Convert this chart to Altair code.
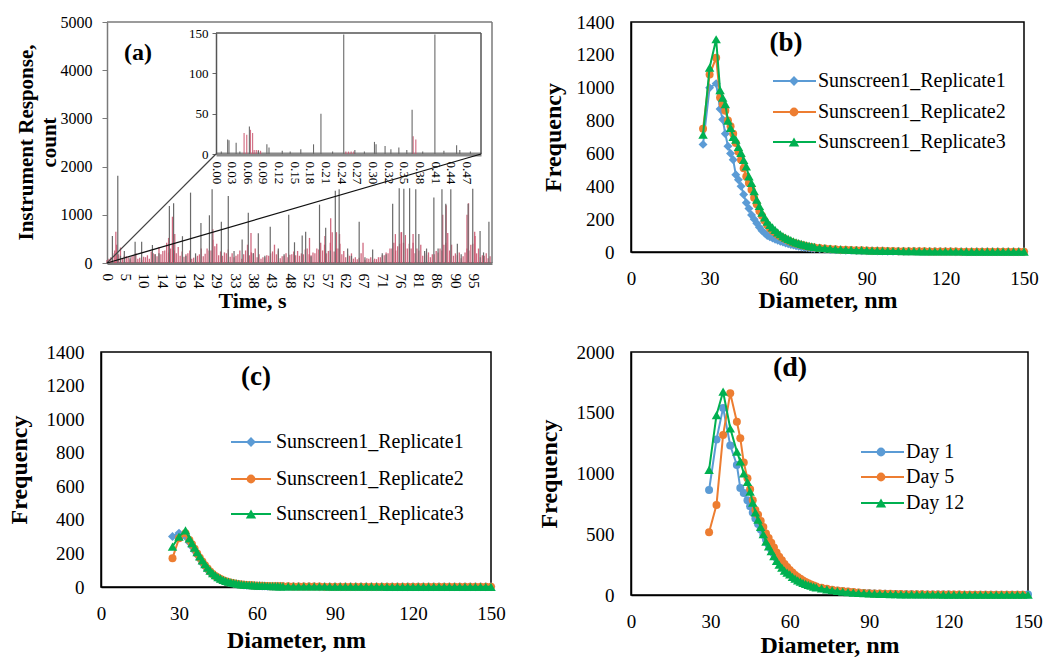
import altair as alt
import pandas as pd

FONT = "Liberation Serif"
BLUE, ORANGE, GREEN = "#5B9BD5", "#ED7D31", "#00B050"
RED, GREY = "#C8506A", "#6A6A6A"

# ---------------------------------------------------------------- panel (a) data
TIME_TICKS = [0, 4.762, 9.524, 14.286, 19.048, 23.810, 28.571, 33.333, 38.095,
              42.857, 47.619, 52.381, 57.143, 61.905, 66.667, 71.429, 76.190,
              80.952, 85.714, 90.476, 95.238]
INSET_TICKS = [0.0, 0.0295, 0.059, 0.0886, 0.1181, 0.1476, 0.1771, 0.2066, 0.2362,
               0.2657, 0.2952, 0.3247, 0.3542, 0.3838, 0.4133, 0.4428, 0.4723]

RED_T_MID = [0.5, 1.5, 2.5, 3.5, 4.5, 5.5, 6.5, 7.5, 8.5, 9.5,
             10.5, 11.5, 12.5, 13.5, 14.5, 15.5, 16.5, 17.5, 18.5, 19.5,
             20.5, 21.5, 22.5, 23.5, 24.5, 25.5, 26.5, 27.5, 28.5, 29.5,
             30.5, 31.5, 32.5, 33.5, 34.5, 35.5, 36.5, 37.5, 38.5, 39.5,
             40.5, 41.5, 42.5, 43.5, 44.5, 45.5, 46.5, 47.5, 48.5, 49.5,
             50.5, 51.5, 52.5, 53.5, 54.5, 55.5, 56.5, 57.5, 58.5, 59.5,
             60.5, 61.5, 62.5, 63.5, 64.5, 65.5, 66.5, 67.5, 68.5, 69.5,
             70.5, 71.5, 72.5, 73.5, 74.5, 75.5, 76.5, 77.5, 78.5, 79.5,
             80.5, 81.5, 82.5, 83.5, 84.5, 85.5, 86.5, 87.5, 88.5, 89.5,
             90.5, 91.5, 92.5, 93.5, 94.5, 95.5, 96.5, 97.5, 98.5, 99.5]
RED_V_MID = [90, 200, 380, 320, 150, 120, 140, 200, 110, 130,
             160, 240, 180, 330, 250, 420, 300, 260, 330, 240,
             180, 260, 110, 150, 300, 190, 260, 480, 400, 240,
             220, 280, 200, 150, 260, 180, 380, 220, 300, 180,
             120, 160, 200, 380, 260, 140, 200, 170, 240, 250,
             200, 280, 180, 220, 300, 420, 380, 250, 640, 300,
             400, 250, 180, 200, 120, 110, 420, 100, 120, 90,
             120, 160, 220, 300, 420, 350, 640, 580, 400, 420,
             300, 380, 200, 220, 180, 250, 300, 380, 620, 380,
             200, 220, 140, 300, 380, 650, 300, 160, 200, 140]
RED_T_INT = [0, 1, 2, 3, 4, 5, 6, 7, 8, 9,
             10, 11, 12, 13, 14, 15, 16, 17, 18, 19,
             20, 21, 22, 23, 24, 25, 26, 27, 28, 29,
             30, 31, 32, 33, 34, 35, 36, 37, 38, 39,
             40, 41, 42, 43, 44, 45, 46, 47, 48, 49,
             50, 51, 52, 53, 54, 55, 56, 57, 58, 59,
             60, 61, 62, 63, 64, 65, 66, 67, 68, 69,
             70, 71, 72, 73, 74, 75, 76, 77, 78, 79,
             80, 81, 82, 83, 84, 85, 86, 87, 88, 89,
             90, 91, 92, 93, 94, 95, 96, 97, 98, 99]
RED_V_INT = [60, 120, 260, 180, 90, 140, 80, 160, 90, 70,
             120, 90, 200, 140, 180, 260, 220, 400, 200, 150,
             130, 200, 90, 120, 180, 140, 300, 260, 350, 160,
             150, 200, 130, 120, 180, 90, 260, 160, 200, 120,
             90, 120, 150, 240, 180, 100, 150, 120, 180, 160,
             150, 180, 300, 160, 200, 280, 260, 200, 420, 240,
             300, 180, 120, 150, 90, 80, 200, 70, 90, 60,
             80, 120, 160, 200, 300, 260, 400, 420, 300, 300,
             200, 260, 150, 160, 120, 180, 220, 260, 420, 260,
             150, 160, 100, 220, 260, 400, 200, 120, 150, 100]
RED_SPIKE_T = [2.3, 16.0, 17.0, 17.6, 27.5, 37.4, 52.6, 56.6, 58.1, 59.6,
               60.4, 74.9, 76.4, 79.5, 87.2, 88.1, 93.5, 93.9, 95.6]
RED_SPIKE_V = [650, 520, 960, 600, 700, 620, 520, 560, 930, 640,
               600, 600, 640, 600, 1000, 1200, 1000, 1240, 560]

GREY_T = [1.4, 2.8, 3.5, 4.5, 6.0, 7.3, 9.0, 11.8, 12.5, 13.5,
          16.2, 17.3, 19.6, 20.5, 21.7, 23.0, 24.4, 26.6, 27.3, 29.7,
          31.5, 33.0, 35.1, 36.7, 38.0, 39.3, 41.0, 42.4, 44.5, 46.0,
          47.2, 48.7, 50.7, 51.6, 53.0, 55.2, 56.8, 58.0, 59.3, 60.3,
          62.5, 63.5, 65.5, 67.0, 69.0, 71.5, 72.5, 74.2, 75.9, 77.1,
          78.6, 80.2, 81.0, 82.5, 83.0, 84.9, 86.0, 87.0, 88.0, 89.3,
          91.0, 92.0, 93.8, 95.0, 96.9, 97.8, 99.2]
GREY_V = [560, 1812, 150, 250, 120, 442, 442, 373, 180, 200,
          1182, 1238, 556, 150, 1460, 200, 830, 990, 1530, 855,
          1390, 250, 490, 1040, 200, 615, 150, 750, 300, 180,
          1000, 430, 570, 650, 140, 1210, 730, 260, 1500, 1530,
          300, 150, 855, 120, 280, 200, 180, 1230, 1550, 1540,
          1550, 1530, 600, 250, 300, 1360, 300, 1530, 1230, 1530,
          400, 180, 1230, 1540, 665, 220, 855]

INSET_GREY_T = [0.010, 0.022, 0.0245, 0.038, 0.045, 0.063, 0.080, 0.096, 0.100, 0.125,
                0.140, 0.160, 0.184, 0.198, 0.220, 0.241, 0.262, 0.280, 0.299, 0.302,
                0.319, 0.330, 0.345, 0.360, 0.370, 0.390, 0.413, 0.430, 0.454, 0.460,
                0.480]
INSET_GREY_V = [3, 18, 17, 14, 3, 34, 4, 12, 8, 4,
                3, 6, 12, 50, 3, 148, 5, 3, 15, 12,
                10, 6, 8, 5, 55, 3, 148, 4, 11, 5,
                3]
INSET_RED_T = [0.053, 0.058, 0.065, 0.069, 0.072, 0.076, 0.080, 0.084,
               0.245, 0.250, 0.255, 0.260, 0.372, 0.377]
INSET_RED_V = [26, 24, 30, 26, 5, 5, 5, 4, 3, 3, 3, 3, 22, 18]

# ---------------------------------------------------------------- panels (b), (c) data
DIAM_BC = [27.5, 30, 32.5, 34, 35, 36, 37, 38, 39, 40,
           41, 42, 43, 44, 45, 46, 47, 48, 49, 50,
           51, 52, 53, 54, 55, 56, 57, 58, 59, 60,
           61, 62, 63, 64, 65, 66, 67, 68, 69, 70,
           72, 74, 76, 78, 80, 82, 84, 86, 88, 90,
           92, 94, 96, 98, 100, 102, 104, 106, 108, 110,
           112, 114, 116, 118, 120, 122, 124, 126, 128, 130,
           132, 134, 136, 138, 140, 142, 144, 146, 148, 150]

B_REP1 = [655, 1000, 1025, 870, 806, 720, 644, 600, 562, 470,
          440, 400, 350, 300, 265, 225, 200, 175, 150, 130,
          115, 100, 92, 85, 78, 72, 66, 60, 55, 50,
          46, 42, 38, 35, 32, 29, 27, 25, 23, 21,
          19, 17, 15, 13, 12, 11, 10, 9, 8, 7,
          7, 6, 6, 5, 5, 5, 4, 4, 4, 4,
          3, 3, 3, 3, 3, 3, 2, 2, 2, 2,
          2, 2, 2, 2, 2, 2, 2, 2, 2, 2]
B_REP2 = [750, 1080, 1183, 940, 900, 860, 800, 766, 720, 664,
          610, 562, 510, 460, 420, 379, 330, 290, 250, 220,
          190, 165, 145, 130, 118, 105, 95, 86, 78, 70,
          63, 57, 52, 47, 43, 39, 35, 32, 29, 27,
          24, 21, 18, 16, 14, 13, 12, 11, 10, 9,
          8, 7, 7, 6, 6, 5, 5, 5, 4, 4,
          4, 3, 3, 3, 3, 3, 3, 2, 2, 2,
          2, 2, 2, 2, 2, 2, 2, 2, 2, 2]
B_REP3 = [715, 1122, 1295, 985, 940, 900, 800, 756, 700, 684,
          640, 603, 560, 521, 460, 420, 370, 318, 280, 240,
          210, 185, 165, 150, 135, 120, 108, 97, 88, 80,
          72, 65, 59, 54, 49, 45, 41, 37, 34, 31,
          27, 24, 21, 18, 16, 14, 13, 12, 11, 10,
          9, 8, 7, 7, 6, 6, 5, 5, 5, 4,
          4, 4, 3, 3, 3, 3, 3, 3, 2, 2,
          2, 2, 2, 2, 2, 2, 2, 2, 2, 2]

C_REP1 = [301, 321, 300, 265, 240, 215, 190, 165, 140, 120,
          100, 85, 72, 60, 50, 43, 37, 32, 28, 24,
          21, 18, 16, 14, 12, 11, 10, 9, 8, 7,
          7, 6, 6, 5, 5, 5, 4, 4, 4, 4,
          3, 3, 3, 3, 3, 3, 2, 2, 2, 2,
          2, 2, 2, 2, 2, 2, 2, 1, 1, 1,
          1, 1, 1, 1, 1, 1, 1, 1, 1, 1,
          1, 1, 1, 1, 1, 1, 1, 1, 1, 1]
C_REP2 = [172, 290, 320, 280, 255, 228, 200, 175, 152, 130,
          110, 93, 78, 66, 56, 47, 40, 35, 30, 26,
          22, 19, 17, 15, 13, 12, 11, 10, 9, 8,
          7, 7, 6, 6, 5, 5, 5, 4, 4, 4,
          4, 3, 3, 3, 3, 3, 3, 2, 2, 2,
          2, 2, 2, 2, 2, 2, 2, 2, 1, 1,
          1, 1, 1, 1, 1, 1, 1, 1, 1, 1,
          1, 1, 1, 1, 1, 1, 1, 1, 1, 1]
C_REP3 = [241, 300, 337, 290, 262, 235, 208, 182, 158, 136,
          116, 98, 83, 70, 59, 50, 43, 37, 32, 28,
          24, 21, 18, 16, 14, 13, 12, 11, 10, 9,
          8, 7, 7, 6, 6, 5, 5, 5, 4, 4,
          4, 3, 3, 3, 3, 3, 3, 3, 2, 2,
          2, 2, 2, 2, 2, 2, 2, 2, 2, 1,
          1, 1, 1, 1, 1, 1, 1, 1, 1, 1,
          1, 1, 1, 1, 1, 1, 1, 1, 1, 1]

# ---------------------------------------------------------------- panel (d) data
DIAM_D = [29.5, 32.3, 34.8, 37.5, 40, 41.3, 42.6, 44, 45, 46,
          47, 48, 49, 50, 51, 52, 53, 54, 55, 56,
          57, 58, 59, 60, 61, 62, 63, 64, 65, 66,
          67, 68, 69, 70, 72, 74, 76, 78, 80, 82,
          84, 86, 88, 90, 92, 94, 96, 98, 100, 102,
          104, 106, 108, 110, 112, 114, 116, 118, 120, 122,
          124, 126, 128, 130, 132, 134, 136, 138, 140, 142,
          144, 146, 148, 150]
D_DAY1 = [864, 1280, 1540, 1230, 1070, 880, 840, 780, 730, 680,
          630, 585, 540, 495, 455, 415, 375, 340, 305, 275,
          250, 225, 205, 185, 165, 150, 135, 122, 110, 98,
          88, 80, 72, 65, 56, 48, 41, 35, 30, 26,
          22, 19, 16, 14, 12, 11, 10, 9, 8, 7,
          6, 6, 5, 5, 5, 4, 4, 4, 4, 3,
          3, 3, 3, 3, 3, 3, 3, 3, 3, 3,
          3, 3, 3, 5]
D_DAY5 = [516, 741, 1317, 1660, 1426, 1290, 1090, 960, 870, 780,
          700, 660, 610, 560, 507, 470, 430, 390, 350, 315,
          285, 255, 230, 205, 185, 165, 148, 133, 120, 108,
          97, 87, 78, 70, 60, 51, 44, 38, 32, 28,
          24, 20, 17, 15, 13, 12, 11, 10, 9, 8,
          7, 7, 6, 6, 5, 5, 5, 4, 4, 4,
          4, 3, 3, 3, 3, 3, 3, 3, 3, 3,
          3, 3, 3]
D_DAY12 = [1029, 1481, 1673, 1372, 1180, 1100, 1000, 930, 850, 760,
           680, 620, 560, 500, 440, 400, 360, 320, 280, 250,
           225, 200, 185, 170, 150, 135, 120, 110, 100, 92,
           84, 76, 69, 62, 54, 46, 39, 33, 28, 24,
           20, 17, 15, 13, 11, 10, 9, 8, 7, 6,
           6, 5, 5, 5, 4, 4, 4, 3, 3, 3,
           3, 3, 2, 2, 2, 2, 2, 2, 2, 2,
           2, 2, 2, 2]

# ---------------------------------------------------------------- layout
A_W, A_H = 391, 241
A_X0 = 6
INSET_XR = [115, 380]
INSET_YR = [132, 11]
B_W, B_H = 393, 230
C_W, C_H = 390, 235
D_W, D_H = 397, 243

ONE = pd.DataFrame({"k": [0]})


def pix_rule(x, y, x2, y2, color, width):
    return alt.Chart(ONE).mark_rule(color=color, strokeWidth=width).encode(
        x=alt.value(x), y=alt.value(y), x2=alt.value(x2), y2=alt.value(y2))


def pix_text(txt, x, y, size):
    return alt.Chart(pd.DataFrame({"txt": [txt]})).mark_text(
        font=FONT, fontSize=size, fontWeight="bold", color="black",
        align="center", baseline="middle").encode(
        x=alt.value(x), y=alt.value(y), text="txt:N")


# ---------------------------------------------------------------- panel (a)
red_df = pd.DataFrame({"t": RED_T_INT + RED_T_MID + RED_SPIKE_T,
                       "v": RED_V_INT + RED_V_MID + RED_SPIKE_V})
grey_df = pd.DataFrame({"t": GREY_T, "v": GREY_V})

xa = alt.X("t:Q", scale=alt.Scale(domain=[0, 100], range=[A_X0, A_W], nice=False),
           axis=alt.Axis(values=TIME_TICKS, format=".0f", labelAngle=90, labelFontSize=15,
                         labelPadding=10, ticks=False, tickSize=0, labelFlush=False,
                         labelOverlap=False, grid=False, domainColor="#7a7a7a", domainWidth=3,
                         title="Time, s", titleFontSize=22, titleFontWeight="bold",
                         titleX=151, titleY=37, titleBaseline="middle", titleAlign="center",
                         titleAngle=0))
ya = alt.Y("v:Q", scale=alt.Scale(domain=[0, 5000], nice=False),
           axis=alt.Axis(values=[0, 1000, 2000, 3000, 4000, 5000], format="d",
                         offset=-A_X0, tickSize=5,
                         tickColor="#7a7a7a", labelFontSize=16, labelPadding=10, grid=False,
                         domainColor="#7a7a7a", domainWidth=1.5,
                         title=["Instrument  Response,", "count"], titleFontSize=21,
                         titleFontWeight="bold", titleLineHeight=23, titleX=-81, titleY=120,
                         titleBaseline="middle", titleAlign="center", titleAngle=270))

main_a = alt.layer(
    alt.Chart(red_df).mark_rule(color=RED, strokeWidth=1.3, opacity=0.85).encode(
        x=xa, y=ya, y2=alt.datum(0)),
    alt.Chart(grey_df).mark_rule(color=GREY, strokeWidth=1.2).encode(
        x=xa, y=ya, y2=alt.datum(0)),
)

xi = alt.X("t:Q", scale=alt.Scale(domain=[0, 0.5], range=INSET_XR, nice=False),
           axis=alt.Axis(orient="bottom", offset=-(A_H - INSET_YR[0]), values=INSET_TICKS,
                         format=".2f", labelAngle=90, labelFontSize=13, labelPadding=7,
                         ticks=False, tickSize=0, labelFlush=False, labelOverlap=False,
                         grid=False, domainColor="#8a8a8a", domainWidth=4, title=None))
yi = alt.Y("v:Q", scale=alt.Scale(domain=[0, 150], range=INSET_YR, nice=False),
           axis=alt.Axis(orient="left", offset=-INSET_XR[0], values=[0, 50, 100, 150],
                         format="d", tickSize=4, tickColor="#666666", labelFontSize=13,
                         labelPadding=4, grid=False, domainColor="#555555", domainWidth=1.5,
                         title=None))
inset_a = alt.layer(
    alt.Chart(pd.DataFrame({"t": INSET_RED_T, "v": INSET_RED_V})).mark_rule(
        color=RED, strokeWidth=1.2, opacity=0.8).encode(x=xi, y=yi, y2=alt.datum(0)),
    alt.Chart(pd.DataFrame({"t": INSET_GREY_T, "v": INSET_GREY_V})).mark_rule(
        color=GREY, strokeWidth=1.1).encode(x=xi, y=yi, y2=alt.datum(0)),
)

panel_a = alt.layer(
    main_a,
    inset_a,
    pix_rule(A_X0, 0, A_W, 0, "#7a7a7a", 1.5),
    pix_rule(A_W, 0, A_W, A_H, "#7a7a7a", 1.5),
    pix_rule(INSET_XR[0], INSET_YR[1], INSET_XR[1], INSET_YR[1], "#555555", 1.5),
    pix_rule(INSET_XR[1], INSET_YR[1], INSET_XR[1], INSET_YR[0], "#555555", 1.5),
    pix_rule(A_X0, A_H, INSET_XR[0], INSET_YR[0], "#444444", 1.2),
    pix_rule(A_X0, A_H, INSET_XR[1], INSET_YR[0], "#111111", 1.3),
    pix_text("(a)", 37, 31, 24),
).resolve_scale(x="independent", y="independent").properties(
    width=A_W, height=A_H, view=alt.ViewBackground(stroke="transparent"))


# ---------------------------------------------------------------- distribution panels
def dist_panel(diams, series, ymax, ystep, w, h, letter, letter_xy, letter_size,
               legend_rows_y, legend_line, legend_mark_x, legend_text_x,
               xtitle_y, ytitle_x):
    x = alt.X("d:Q", scale=alt.Scale(domain=[0, 150], nice=False),
              axis=alt.Axis(values=[0, 30, 60, 90, 120, 150], ticks=False, tickSize=0,
                            labelFontSize=19, labelPadding=26, labelBaseline="middle",
                            labelFlush=False, grid=False, domainColor="black",
                            domainWidth=1.5, title="Diameter, nm", titleFontSize=24,
                            titleFontWeight="bold", titleX=w / 2, titleY=xtitle_y,
                            titleBaseline="middle", titleAlign="center", titleAngle=0))
    y = alt.Y("f:Q", scale=alt.Scale(domain=[0, ymax], nice=False),
              axis=alt.Axis(values=list(range(0, ymax + 1, ystep)), format="d",
                            ticks=False, tickSize=0,
                            labelFontSize=19, labelPadding=17, grid=False,
                            domainColor="black", domainWidth=1.5, title="Frequency",
                            titleFontSize=24, titleFontWeight="bold", titleX=ytitle_x,
                            titleY=h / 2, titleBaseline="middle", titleAlign="center",
                            titleAngle=270))
    layers = []
    for name, vals, color, shape, size in series:
        df = pd.DataFrame({"d": diams[:len(vals)], "f": vals})
        layers.append(alt.Chart(df).mark_line(color=color, strokeWidth=2).encode(x=x, y=y))
        layers.append(alt.Chart(df).mark_point(filled=True, shape=shape, size=size,
                                               color=color, opacity=1).encode(x=x, y=y))
    for (name, vals, color, shape, size), ry in zip(series, legend_rows_y):
        layers.append(pix_rule(legend_line[0], ry, legend_line[1], ry, color, 2))
        layers.append(alt.Chart(ONE).mark_point(filled=True, shape=shape, size=size * 1.2,
                                                color=color, opacity=1).encode(
            x=alt.value(legend_mark_x), y=alt.value(ry)))
        layers.append(alt.Chart(pd.DataFrame({"name": [name]})).mark_text(
            font=FONT, fontSize=20, color="black", align="left", baseline="middle").encode(
            x=alt.value(legend_text_x), y=alt.value(ry), text="name:N"))
    layers.append(pix_text(letter, letter_xy[0], letter_xy[1], letter_size))
    return alt.layer(*layers).properties(width=w, height=h)


REP_NAMES = ["Sunscreen1_Replicate1", "Sunscreen1_Replicate2", "Sunscreen1_Replicate3"]
DAY_NAMES = ["Day 1", "Day 5", "Day 12"]

panel_b = dist_panel(
    DIAM_BC,
    [(REP_NAMES[0], B_REP1, BLUE, "diamond", 80),
     (REP_NAMES[1], B_REP2, ORANGE, "circle", 64),
     (REP_NAMES[2], B_REP3, GREEN, "triangle-up", 90)],
    1400, 200, B_W, B_H, "(b)", (155, 21), 27,
    [59, 90, 120], (142, 185), 163, 187, 48, -78)

panel_c = dist_panel(
    DIAM_BC,
    [(REP_NAMES[0], C_REP1, BLUE, "diamond", 80),
     (REP_NAMES[1], C_REP2, ORANGE, "circle", 64),
     (REP_NAMES[2], C_REP3, GREEN, "triangle-up", 90)],
    1400, 200, C_W, C_H, "(c)", (155, 25), 27,
    [90, 127, 162], (130, 170), 150, 175, 53, -82)

panel_d = dist_panel(
    DIAM_D,
    [(DAY_NAMES[0], D_DAY1, BLUE, "circle", 64),
     (DAY_NAMES[1], D_DAY5, ORANGE, "circle", 64),
     (DAY_NAMES[2], D_DAY12, GREEN, "triangle-up", 90)],
    2000, 500, D_W, D_H, "(d)", (159, 16), 28,
    [100, 125, 151], (230, 273), 250, 275, 50, -82)

chart = alt.concat(
    panel_a, panel_b, panel_c, panel_d,
    columns=2, spacing={"row": 89, "column": 139}, bounds="flush",
).properties(
    padding={"left": 6, "top": 12, "right": 0, "bottom": 0},
    background="white",
).configure(font=FONT).configure_axis(
    labelFont=FONT, titleFont=FONT, labelColor="black", titleColor="black"
).configure_view(stroke="black", strokeWidth=1.5)

chart.save("out.html", embed_options={"renderer": "svg", "actions": False})
